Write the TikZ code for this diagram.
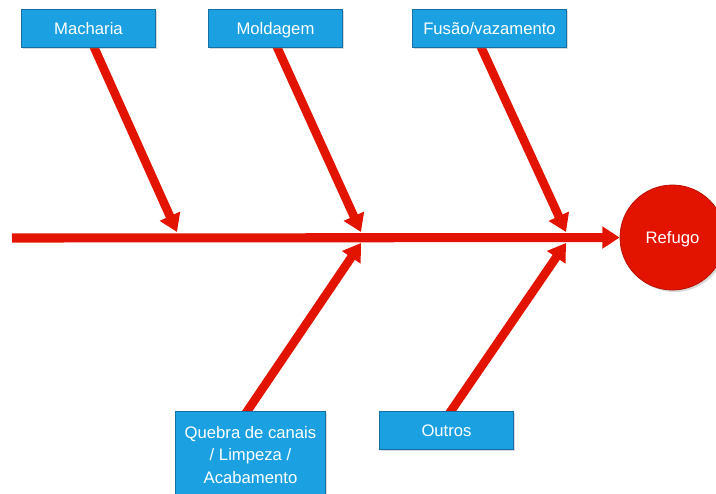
\documentclass[tikz,border=0pt]{standalone}
\usepackage{fontspec}
\setmainfont{Liberation Sans}
\usepackage{tikz}
\usetikzlibrary{arrows.meta,calc,shadows,backgrounds}

\definecolor{azulcaixa}{RGB}{27,161,226}
\definecolor{azulborda}{RGB}{22,112,166}
\definecolor{vermelho}{RGB}{226,20,0}
\definecolor{vermelhoborda}{RGB}{185,15,0}

\begin{document}
\begin{tikzpicture}[
    x=0.75pt,
    y=-0.75pt,
    font=\fontsize{12.5}{17}\selectfont,
    causa/.style={
        draw=azulborda, fill=azulcaixa, text=white,
        line width=0.8pt, inner sep=0pt,
        text height=9pt, text depth=0pt,
        minimum width=101pt, minimum height=28pt, align=center,
        drop shadow={shadow xshift=1.2pt, shadow yshift=-1.2pt,
                     opacity=0.3, fill=gray}},
    espinha/.style={
        draw=vermelho, line width=6.5pt,
        -{Triangle[width=16pt,length=13pt]}}
]

% Area visivel
\clip
    (0,0)
    rectangle
    (716,493);

% Causas (caixas azuis)
\node[causa] (macharia) at (88.5,28.5)
    {Macharia};

\node[causa] (moldagem) at (275.5,28.5)
    {Moldagem};

\node[causa, minimum width=115pt] (fusao) at (489.5,28.5)
    {Fusão/vazamento};

\node[causa, text height={}, text depth={},
      minimum width=113pt, minimum height=65pt] (quebra) at (250.5,455)
    {Quebra de canais\\/ Limpeza /\\Acabamento};

\node[causa] (outros) at (446.5,430.5)
    {Outros};

% Efeito
\node[circle, fill=vermelho, draw=vermelhoborda, line width=0.6pt,
      minimum size=78.75pt, text=white, text height=9pt, text depth=0pt,
      drop shadow={shadow xshift=1.5pt, shadow yshift=-1.5pt, opacity=0.3, fill=gray}]
    (refugo) at (672.5,237.5)
    {Refugo};

% Pontos na espinha
\coordinate (cauda) at (12,238);
\coordinate (pmacharia) at (177,232);
\coordinate (pmoldagem) at (361,232);
\coordinate (pfusao) at (566,232);
\coordinate (pquebra) at (361,243);
\coordinate (poutros) at (566,243);

\begin{scope}[on background layer]

% Espinha principal
\draw[espinha, line width=6.8pt, -{Triangle[width=16pt,length=13pt]}]
    (cauda) -- (refugo);

% Setas de cima
\draw[espinha]
    ($(macharia.south)+(4,-4)$) -- (pmacharia);

\draw[espinha]
    ($(moldagem.south)+(0,-4)$) -- (pmoldagem);

\draw[espinha]
    ($(fusao.south)+(-10,-4)$) -- (pfusao);

% Setas de baixo
\draw[espinha]
    ($(quebra.north)+(-6,4)$) -- (pquebra);

\draw[espinha]
    ($(outros.north)+(1.5,4)$) -- (poutros);

\end{scope}

\end{tikzpicture}
\end{document}
